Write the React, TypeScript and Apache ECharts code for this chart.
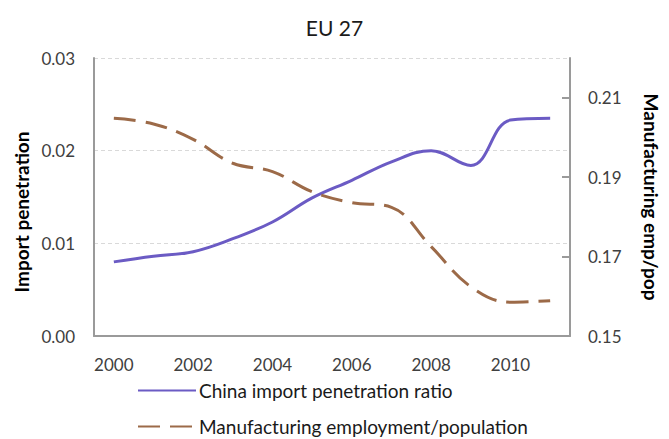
import React, { useEffect, useRef } from "react";
import * as echarts from "echarts";

const years = ["2000", "2001", "2002", "2003", "2004", "2005", "2006", "2007", "2008", "2009", "2010", "2011"];
const chinaImportPenetration = [0.0080, 0.0086, 0.0091, 0.0105, 0.0123, 0.0149, 0.0168, 0.0188, 0.0200, 0.0184, 0.0233, 0.0235];
const mfgEmploymentPop = [0.2048, 0.2034, 0.1995, 0.1935, 0.1914, 0.1863, 0.1836, 0.1824, 0.1725, 0.1624, 0.1585, 0.1589];
const rightTicks = [0.15, 0.17, 0.19, 0.21];
const seriesNames = ["China import penetration ratio", "Manufacturing employment/population"];

const FONT = "Lato, 'Open Sans', sans-serif";

const legendBase = {
  orient: "horizontal",
  left: 137,
  padding: 0,
  itemWidth: 58,
  itemHeight: 14,
  textStyle: { fontFamily: FONT, fontSize: 19, color: "#1a1a1a", padding: [0, 0, 0, -2] },
  itemStyle: { color: "rgba(0,0,0,0)", borderWidth: 0, borderColor: "rgba(0,0,0,0)" },
};

export default function App() {
  const ref = useRef<HTMLDivElement>(null);
  useEffect(() => {
    if (!ref.current) return;
    const chart = echarts.init(ref.current, undefined, { renderer: "svg" });
    chart.setOption({
      animation: false,
      textStyle: { fontFamily: FONT },
      title: {
        text: "EU 27",
        left: "center",
        top: 12,
        textStyle: { fontFamily: FONT, fontSize: 21, fontWeight: "normal", color: "#1a1a1a" },
      },
      grid: { left: 94, right: 85, top: 58, bottom: 103, containLabel: false },
      legend: [
        { ...legendBase, top: 381, data: [seriesNames[0]] },
        { ...legendBase, top: 417, data: [seriesNames[1]] },
      ],
      xAxis: {
        type: "category",
        data: years,
        boundaryGap: true,
        axisLine: { lineStyle: { color: "#9a9a9a", width: 2 } },
        axisTick: { show: false },
        axisLabel: {
          interval: 1,
          margin: 20,
          fontFamily: FONT,
          fontSize: 17,
          color: "#404040",
        },
      },
      yAxis: [
        {
          type: "value",
          min: 0,
          max: 0.03,
          interval: 0.01,
          name: "Import penetration",
          nameLocation: "middle",
          nameGap: 62,
          nameRotate: 90,
          nameTextStyle: { fontFamily: FONT, fontSize: 19, fontWeight: "bold", color: "#000", padding: [0, 0, 0, -30] },
          axisLine: { show: true, lineStyle: { color: "#9a9a9a", width: 2 } },
          axisTick: { show: false },
          axisLabel: {
            margin: 19,
            fontFamily: FONT,
            fontSize: 17,
            color: "#404040",
            formatter: (v: number) => v.toFixed(2),
          },
          splitLine: { show: true, lineStyle: { color: "#d9d9d9", type: [4, 3], width: 1 } },
        },
        {
          type: "value",
          min: 0.15,
          max: 0.22,
          name: "Manufacturing emp/pop",
          nameLocation: "middle",
          nameGap: 72,
          nameRotate: -90,
          nameTextStyle: { fontFamily: FONT, fontSize: 19, fontWeight: "bold", color: "#000" },
          axisLine: { show: true, lineStyle: { color: "#9a9a9a", width: 2 } },
          axisTick: { show: true, inside: true, length: 8, customValues: rightTicks.slice(1), lineStyle: { color: "#9a9a9a", width: 2 } },
          axisLabel: {
            margin: 18,
            fontFamily: FONT,
            fontSize: 17,
            color: "#404040",
            customValues: rightTicks,
            formatter: (v: number) => v.toFixed(2),
          },
          splitLine: { show: false },
        },
      ],
      series: [
        {
          name: seriesNames[0],
          type: "line",
          data: chinaImportPenetration,
          yAxisIndex: 0,
          smooth: 0.4,
          symbol: "none",
          lineStyle: { color: "#6b5bc4", width: 3 },
          itemStyle: { color: "#6b5bc4" },
        },
        {
          name: seriesNames[1],
          type: "line",
          data: mfgEmploymentPop,
          yAxisIndex: 1,
          smooth: 0.4,
          symbol: "none",
          lineStyle: { color: "#9c6a48", width: 3, type: [22, 10] },
          itemStyle: { color: "#9c6a48" },
        },
      ],
    });
    return () => chart.dispose();
  }, []);
  return <div ref={ref} style={{ width: 669, height: 439, position: "absolute", left: 0, top: 0 }} />;
}
